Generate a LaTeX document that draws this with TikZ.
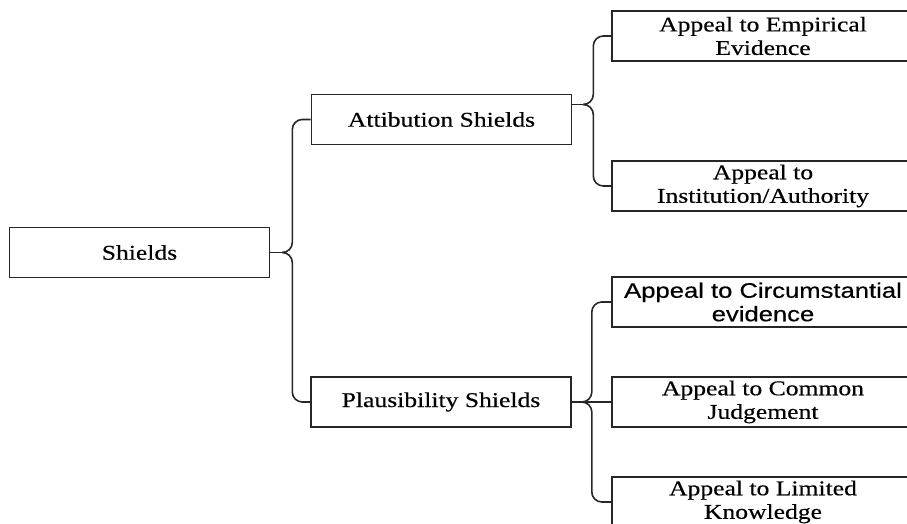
\documentclass[tikz,border=0pt]{standalone}
\usepackage{fontspec}
\setmainfont{Liberation Serif}[FakeStretch=1.22,FakeBold=0.4]
\setsansfont{Liberation Sans}[FakeStretch=1.22,FakeBold=0.4]
\usetikzlibrary{positioning,calc}
\tikzset{
  shieldBox/.style={draw=black!85, line width=1.6pt, fill=white, minimum height=50pt,
    inner sep=2pt, align=center, text=black, font=\fontsize{21}{23.5}\selectfont},
  topBox/.style={shieldBox, minimum width=260pt},
  leafBox/.style={shieldBox, minimum width=302pt},
  braceLine/.style={draw=black!85, line width=1.6pt, rounded corners=10pt}
}
\begin{document}
\begin{tikzpicture}[x=1pt,y=1pt]
  \useasboundingbox (0,0) rectangle (907,524);
  \clip (0,0) rectangle (907,524);
  % boxes
  \node[topBox] (shields) at (139.5,271.5) {Shields};
  \node[topBox] (attib) at (441.5,404.5) {Attibution Shields};
  \node[topBox] (plaus) at (441,122) {Plausibility Shields};
  \node[leafBox] (empir) at (763,488) {Appeal to Empirical\\Evidence};
  \node[leafBox] (instit) at (763,338) {Appeal to\\Institution/Authority};
  \node[leafBox, font=\sffamily\fontsize{21}{23.5}\selectfont] (circum) at (763,222) {Appeal to Circumstantial\\evidence};
  \node[leafBox] (common) at (763,122) {Appeal to Common\\Judgement};
  \node[leafBox] (limited) at (763,22) {Appeal to Limited\\Knowledge};
  % braces
  \coordinate (shieldsCusp) at ($(shields.east)+(12,0)$);
  \draw[braceLine] (attib.west) -| ($(shieldsCusp)+(10,0)$) -- (shieldsCusp);
  \draw[braceLine] (plaus.west) -| ($(shieldsCusp)+(10,0)$) -- (shieldsCusp);
  \draw[braceLine] (shields.east) -- (shieldsCusp);
  \coordinate (attibCusp) at ($(attib.east)+(11,15)$);
  \draw[braceLine] (empir.west) -| ($(attibCusp)+(10,0)$) -- (attibCusp);
  \draw[braceLine] (instit.west) -| ($(attibCusp)+(10,0)$) -- (attibCusp);
  \draw[braceLine] (attib.east |- attibCusp) -- (attibCusp);
  \coordinate (plausCusp) at ($(plaus.east)+(10,0)$);
  \draw[braceLine] (circum.west) -| ($(plausCusp)+(10,0)$) -- (plausCusp);
  \draw[braceLine] (limited.west) -| ($(plausCusp)+(10,0)$) -- (plausCusp);
  \draw[braceLine] (plaus.east) -- (common.west);
\end{tikzpicture}
\end{document}
